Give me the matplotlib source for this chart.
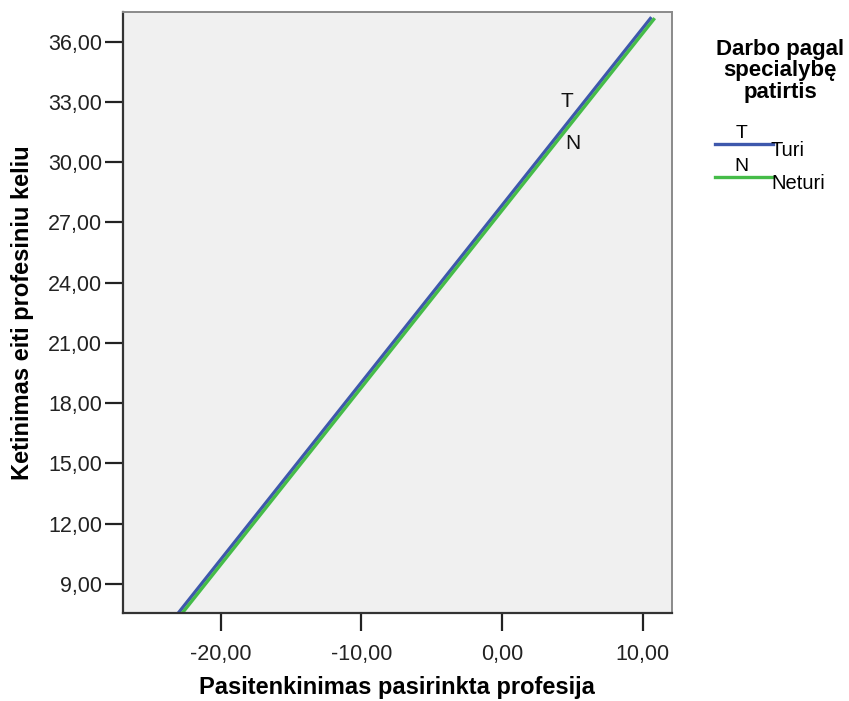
import numpy as np
import matplotlib.pyplot as plt
from matplotlib.lines import Line2D

plt.rcParams["font.family"] = ["Liberation Sans", "DejaVu Sans"]

# Fit lines by group: intercept, slope, x range of the data
groups = ["Turi", "Neturi"]
group_marks = ["T", "N"]
intercepts = [27.85, 27.60]
slopes = [0.882, 0.882]
x_ranges = [(-23.6, 10.62), (-23.6, 10.85)]
line_colors = ["#3e58ac", "#45bc48"]
mark_positions = [(4.6, 33.0), (5.05, 30.95)]

x_ticks = [-20, -10, 0, 10]
y_ticks = [9, 12, 15, 18, 21, 24, 27, 30, 33, 36]

fig = plt.figure(figsize=(8.49, 7.01), dpi=100)
ax = fig.add_axes([0.1446, 0.1251, 0.6466, 0.8582])
ax.set_facecolor("#f0f0f0")

for b0, b1, (x0, x1), c in zip(intercepts, slopes, x_ranges, line_colors):
    xs = np.array([x0, x1])
    ax.plot(xs, b0 + b1 * xs, color=c, lw=2.4, solid_capstyle="butt")

for m, (mx, my) in zip(group_marks, mark_positions):
    ax.text(mx, my, m, fontsize=15, ha="center", va="center", color="#111111")

ax.set_xlim(-26.96, 12.06)
ax.set_ylim(7.54, 37.49)
ax.set_xticks(x_ticks)
ax.set_yticks(y_ticks)
ax.set_xticklabels([f"{v:.2f}".replace(".", ",") for v in x_ticks])
ax.set_yticklabels([f"{v:.2f}".replace(".", ",") for v in y_ticks])
ax.tick_params(direction="out", length=13, width=1.6, labelsize=15.5,
               color="#222222", labelcolor="#222222", pad=2)
ax.tick_params(axis="x", pad=9)

for side in ["left", "bottom"]:
    ax.spines[side].set_color("#333333")
    ax.spines[side].set_linewidth(1.6)
for side in ["top", "right"]:
    ax.spines[side].set_color("#8a8a8a")
    ax.spines[side].set_linewidth(1.4)

ax.set_xlabel("Pasitenkinimas pasirinkta profesija", fontsize=17,
              fontweight="bold", labelpad=8)
ax.set_ylabel("Ketinimas eiti profesiniu keliu", fontsize=17,
              fontweight="bold", labelpad=10)

# Legend built by hand: title, then a line with its mark above it
fig.text(0.919, 0.945, "Darbo pagal\nspecialybę\npatirtis", ha="center",
         va="top", fontsize=16, fontweight="bold", linespacing=1.05)
leg_y = [0.794, 0.747]
for g, m, c, y in zip(groups, group_marks, line_colors, leg_y):
    fig.add_artist(Line2D([0.842, 0.910], [y, y], color=c, lw=2.4,
                          transform=fig.transFigure))
    fig.text(0.873, y + 0.003, m, ha="center", va="bottom", fontsize=14)
    fig.text(0.908, y - 0.009, g, ha="left", va="center", fontsize=14.5)

fig.savefig("out.png", dpi=100)
